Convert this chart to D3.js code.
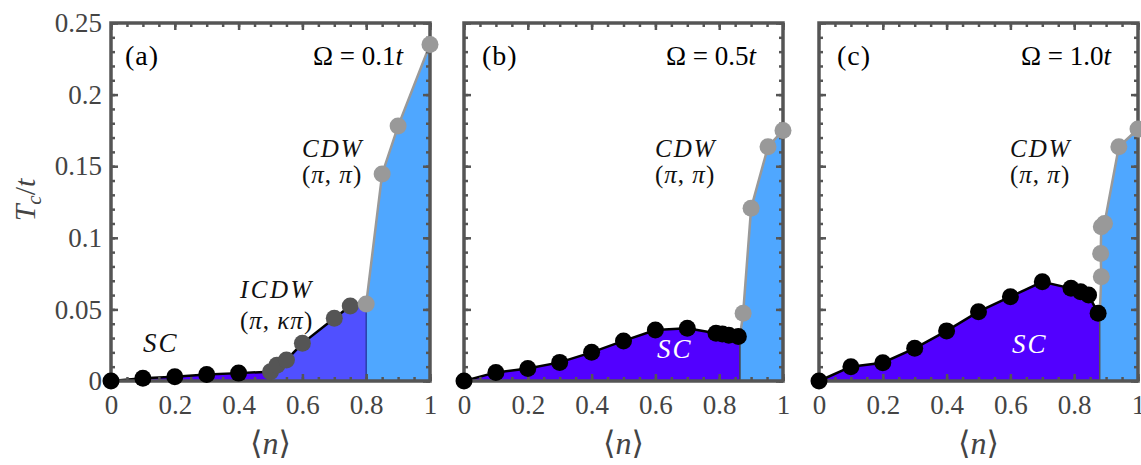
<!DOCTYPE html>
<html>
<head>
<meta charset="utf-8">
<script src="https://cdn.jsdelivr.net/npm/d3@7"></script>
<style>
  body { margin: 0; background: #fff; }
  svg text { font-family: "Liberation Serif", "DejaVu Serif", serif; }
</style>
</head>
<body>
<div id="chart"></div>
<script>
// tick labels
var xTicks = [0, 0.2, 0.4, 0.6, 0.8, 1];
var yTicks = [0, 0.05, 0.1, 0.15, 0.2, 0.25];

// panel (a), Omega = 0.1t  -- [n, Tc/t]
var scA = [[0, 0], [0.1, 0.002], [0.2, 0.003], [0.3, 0.0045], [0.4, 0.0055]];
var icdwA = [[0.5, 0.0065], [0.52, 0.011], [0.55, 0.0147], [0.6, 0.0263], [0.7, 0.0438], [0.75, 0.0524]];
var cdwA = [[0.8, 0.0538], [0.85, 0.1446], [0.9, 0.178], [1.0, 0.235]];

// panel (b), Omega = 0.5t
var scB = [[0, 0], [0.1, 0.006], [0.2, 0.0088], [0.3, 0.013], [0.4, 0.02], [0.5, 0.028], [0.6, 0.0356],
           [0.7, 0.0368], [0.79, 0.0333], [0.81, 0.0328], [0.83, 0.032], [0.86, 0.031]];
var cdwB = [[0.875, 0.0473], [0.9, 0.1206], [0.953, 0.1636], [1.0, 0.175]];

// panel (c), Omega = 1.0t
var scC = [[0, 0], [0.1, 0.01], [0.2, 0.0128], [0.3, 0.0228], [0.4, 0.035], [0.5, 0.0484], [0.6, 0.0589],
           [0.7, 0.0693], [0.79, 0.0647], [0.82, 0.0624], [0.845, 0.06], [0.875, 0.0473]];
var cdwC = [[0.885, 0.0728], [0.883, 0.089], [0.885, 0.1077], [0.895, 0.11], [0.94, 0.1636], [1.0, 0.176]];

// phase boundaries (n where the fill changes)
var icdwStartA = 0.5, cdwStartA = 0.8, cdwStartB = 0.865, cdwStartC = 0.88;

var panelLabels = ["(a)", "(b)", "(c)"];
var omegas = ["0.1", "0.5", "1.0"];

// colours
var colSC = "#5200ff", colICDW = "#5050ff", colCDW = "#4fa7ff";
var frameCol = "#555555";

var svgWidth = 1141, svgHeight = 465;
var panelLeft = [111, 464, 819];
var panelWidth = 319;
var plotTop = 23, plotBottom = 381;

var svg = d3.select("#chart").append("svg")
    .attr("width", svgWidth)
    .attr("height", svgHeight);

var y = d3.scaleLinear().domain([0, 0.25]).range([plotBottom, plotTop]);

function drawPanel(i, layers, annots) {
    var x = d3.scaleLinear().domain([0, 1]).range([panelLeft[i], panelLeft[i] + panelWidth]);
    var g = svg.append("g");

    var area = d3.area().x(d => x(d[0])).y0(y(0)).y1(d => y(d[1]));
    var line = d3.line().x(d => x(d[0])).y(d => y(d[1]));

    // fills
    layers.forEach(function(l) {
        if (l.fill.length) g.append("path").datum(l.fill).attr("d", area).attr("fill", l.color);
    });
    // boundaries
    layers.forEach(function(l) {
        if (l.edge) {
            g.append("line")
                .attr("x1", x(l.edge[0])).attr("x2", x(l.edge[0]))
                .attr("y1", y(0)).attr("y2", y(l.edge[1]))
                .attr("stroke", l.edgeColor).attr("stroke-width", 1.5);
        }
    });
    // lines
    layers.forEach(function(l) {
        if (l.line.length) g.append("path").datum(l.line).attr("d", line)
            .attr("fill", "none").attr("stroke", l.lineColor).attr("stroke-width", 2.5);
    });

    // ticks: minor then major, all four sides, inward
    var minorX = d3.range(0, 1.001, 0.05), minorY = d3.range(0, 0.2501, 0.01);
    function tickStyle(sel) {
        sel.select(".domain").remove();
        sel.selectAll(".tick line").attr("stroke", frameCol).attr("stroke-width", 2.5);
        sel.selectAll(".tick text").attr("fill", "#444").attr("font-size", 27)
            .attr("font-family", "Liberation Serif, DejaVu Serif, serif");
    }
    var fmt = d3.format("~g");
    g.append("g").attr("transform", `translate(0,${plotBottom})`)
        .call(d3.axisBottom(x).tickValues(minorX).tickSize(-4).tickFormat("")).call(tickStyle);
    g.append("g").attr("transform", `translate(0,${plotTop})`)
        .call(d3.axisTop(x).tickValues(minorX).tickSize(-4).tickFormat("")).call(tickStyle);
    g.append("g").attr("transform", `translate(0,${plotBottom})`)
        .call(d3.axisBottom(x).tickValues(xTicks).tickSize(-7).tickPadding(14).tickFormat(fmt)).call(tickStyle);
    g.append("g").attr("transform", `translate(0,${plotTop})`)
        .call(d3.axisTop(x).tickValues(xTicks).tickSize(-7).tickFormat("")).call(tickStyle);
    g.append("g").attr("transform", `translate(${x(0)},0)`)
        .call(d3.axisLeft(y).tickValues(minorY).tickSize(-4).tickFormat("")).call(tickStyle);
    g.append("g").attr("transform", `translate(${x(1)},0)`)
        .call(d3.axisRight(y).tickValues(minorY).tickSize(-4).tickFormat("")).call(tickStyle);
    g.append("g").attr("transform", `translate(${x(0)},0)`)
        .call(d3.axisLeft(y).tickValues(yTicks).tickSize(-7).tickPadding(9).tickFormat(i === 0 ? fmt : "")).call(tickStyle);
    g.append("g").attr("transform", `translate(${x(1)},0)`)
        .call(d3.axisRight(y).tickValues(yTicks).tickSize(-7).tickFormat("")).call(tickStyle);

    // frame
    g.append("rect")
        .attr("x", x(0)).attr("y", plotTop)
        .attr("width", x(1) - x(0)).attr("height", plotBottom - plotTop)
        .attr("fill", "none").attr("stroke", frameCol).attr("stroke-width", 3.5);

    // markers
    layers.forEach(function(l) {
        g.append("g").selectAll("circle")
            .data(l.points).enter().append("circle")
            .attr("cx", d => x(d[0]))
            .attr("cy", d => y(d[1]))
            .attr("r", 8.5)
            .attr("fill", l.pointColor);
    });

    // panel label and Omega
    var x0 = x(0);
    g.append("text").attr("x", x0 + (i === 0 ? 14 : 18)).attr("y", 65)
        .attr("font-size", 28).attr("letter-spacing", 1).text(panelLabels[i]);
    var om = g.append("text").attr("x", x0 + 292).attr("y", 65)
        .attr("font-size", 27).attr("text-anchor", "end");
    om.append("tspan").text("\u03A9 = " + omegas[i]);
    om.append("tspan").attr("font-style", "italic").text("t");

    // x label
    var xl = g.append("text").attr("x", (x(0) + x(1)) / 2).attr("y", 454)
        .attr("font-size", 32).attr("text-anchor", "middle").attr("fill", "#444");
    xl.append("tspan").text("\u27E8");
    xl.append("tspan").attr("font-style", "italic").text("n");
    xl.append("tspan").text("\u27E9");

    annots.forEach(function(a) {
        var t = g.append("text").attr("x", x0 + a.dx).attr("y", a.y)
            .attr("font-size", a.size).attr("letter-spacing", a.ls || 0)
            .attr("fill", a.color || "#111");
        a.parts.forEach(function(p) {
            t.append("tspan").attr("font-style", p[1] ? "italic" : "normal").text(p[0]);
        });
    });
}

var cdwText = [{dx: 191, y: 157, size: 25, ls: 2, parts: [["CDW", true]]},
               {dx: 191, y: 183, size: 25, ls: 1, parts: [["(", false], ["\u03C0", true], [", ", false], ["\u03C0", true], [")", false]]}];

drawPanel(0, [
    {fill: scA.concat([[icdwStartA, icdwA[0][1]]]), color: colSC, line: scA.concat([icdwA[0]]), lineColor: "#000", points: scA, pointColor: "#000"},
    {fill: [[icdwStartA, icdwA[0][1]]].concat(icdwA.slice(1), [[cdwStartA, cdwA[0][1]]]), color: colICDW,
     line: icdwA.concat([cdwA[0]]), lineColor: "#000", points: icdwA, pointColor: "#555",
     edge: [cdwStartA, cdwA[0][1]], edgeColor: "#2a3fa8"},
    {fill: cdwA, color: colCDW, line: cdwA, lineColor: "#999", points: cdwA, pointColor: "#999"}
], cdwText.concat([
    {dx: 129, y: 298, size: 25, ls: 2.5, parts: [["ICDW", true]]},
    {dx: 129, y: 329, size: 25, ls: 1, parts: [["(", false], ["\u03C0", true], [", ", false], ["\u03BA\u03C0", true], [")", false]]},
    {dx: 32, y: 352, size: 27, ls: 2, parts: [["SC", true]]}
]));

drawPanel(1, [
    {fill: scB.concat([[cdwStartB, scB[scB.length - 1][1]]]), color: colSC, line: scB, lineColor: "#000", points: [],
     edge: [cdwStartB, scB[scB.length - 1][1]], edgeColor: "#444"},
    {fill: [[cdwStartB, scB[scB.length - 1][1]]].concat(cdwB), color: colCDW,
     line: [[cdwStartB, scB[scB.length - 1][1]]].concat(cdwB), lineColor: "#999", points: cdwB, pointColor: "#999"},
    {fill: [], color: "none", line: [], lineColor: "none", points: scB, pointColor: "#000"}
], cdwText.concat([
    {dx: 193, y: 358, size: 27, ls: 2, color: "#fff", parts: [["SC", true]]}
]));

drawPanel(2, [
    {fill: scC.concat([[cdwStartC, scC[scC.length - 1][1]]]), color: colSC, line: scC, lineColor: "#000", points: [],
     edge: [cdwStartC, scC[scC.length - 1][1]], edgeColor: "#555"},
    {fill: [[cdwStartC, scC[scC.length - 1][1]]].concat(cdwC), color: colCDW,
     line: [[cdwStartC, scC[scC.length - 1][1]]].concat(cdwC), lineColor: "#999", points: cdwC, pointColor: "#999"},
    {fill: [], color: "none", line: [], lineColor: "none", points: scC, pointColor: "#000"}
], cdwText.concat([
    {dx: 193, y: 353, size: 27, ls: 2, color: "#fff", parts: [["SC", true]]}
]));

// y label
var yl = svg.append("text")
    .attr("transform", "translate(35,200) rotate(-90)")
    .attr("text-anchor", "middle").attr("font-size", 30).attr("fill", "#444");
yl.append("tspan").attr("font-style", "italic").text("T");
yl.append("tspan").attr("font-style", "italic").attr("font-size", 21).attr("dy", 6).text("c");
yl.append("tspan").attr("dy", -6).text("/");
yl.append("tspan").attr("font-style", "italic").text("t");
</script>
</body>
</html>
